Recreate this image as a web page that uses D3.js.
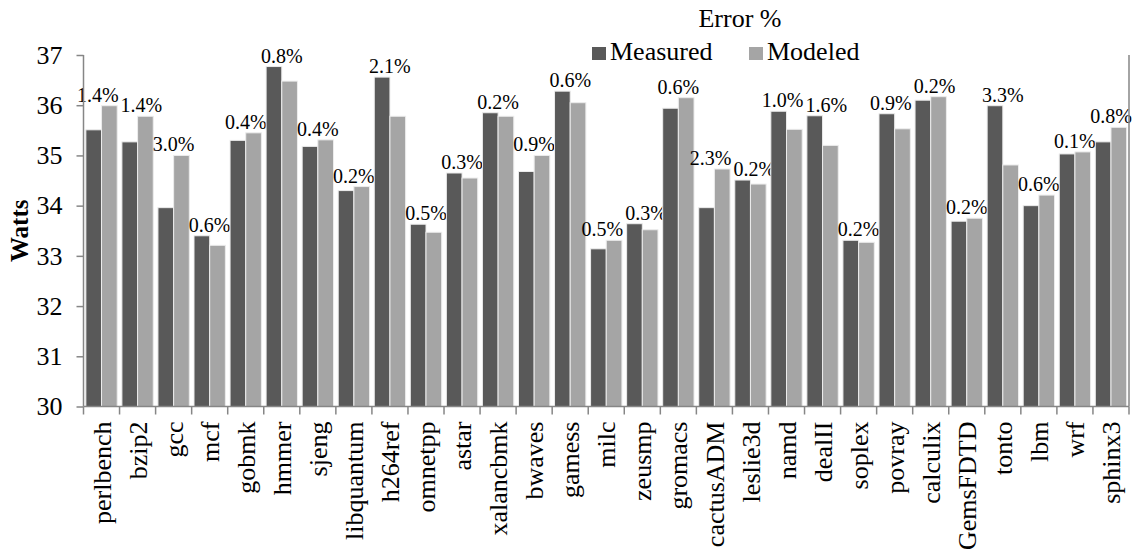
<!DOCTYPE html>
<html>
<head>
<meta charset="utf-8">
<script src="https://cdn.jsdelivr.net/npm/d3@7"></script>
<style>
  body { margin: 0; background: #fff; }
  svg { display: block; font-family: "Liberation Serif", "Times New Roman", serif; }
</style>
</head>
<body>
<svg id="chart"></svg>
<script>
// benchmark names, left to right
const benchmarks = ["perlbench", "bzip2", "gcc", "mcf", "gobmk", "hmmer", "sjeng", "libquantum",
  "h264ref", "omnetpp", "astar", "xalancbmk", "bwaves", "gamess", "milc", "zeusmp", "gromacs",
  "cactusADM", "leslie3d", "namd", "dealII", "soplex", "povray", "calculix", "GemsFDTD",
  "tonto", "lbm", "wrf", "sphinx3"];

// power in watts
const measured = [35.51, 35.27, 33.96, 33.40, 35.30, 36.77, 35.18, 34.30, 36.56, 33.63,
  34.65, 35.85, 34.68, 36.28, 33.14, 33.64, 35.94, 33.96, 34.51, 35.88,
  35.79, 33.31, 35.83, 36.10, 33.69, 35.99, 34.00, 35.03, 35.27];
const modeled = [35.99, 35.78, 35.00, 33.21, 35.45, 36.48, 35.31, 34.38, 35.78, 33.47,
  34.55, 35.78, 35.00, 36.05, 33.31, 33.52, 36.15, 34.73, 34.43, 35.52,
  35.20, 33.27, 35.53, 36.17, 33.75, 34.81, 34.21, 35.07, 35.56];

// error labels shown above each pair
const errorPct = ["1.4%", "1.4%", "3.0%", "0.6%", "0.4%", "0.8%", "0.4%", "0.2%", "2.1%", "0.5%",
  "0.3%", "0.2%", "0.9%", "0.6%", "0.5%", "0.3%", "0.6%", "2.3%", "0.2%", "1.0%",
  "1.6%", "0.2%", "0.9%", "0.2%", "0.2%", "3.3%", "0.6%", "0.1%", "0.8%"];

const seriesNames = ["Measured", "Modeled"];
const yTicks = [30, 31, 32, 33, 34, 35, 36, 37];

const W = 1144, H = 553;
const margin = {top: 55, right: 15, bottom: 146.5, left: 83.5};
const colors = d3.scaleOrdinal().domain(seriesNames).range(["#595959", "#a5a5a5"]);
const axisColor = "#868686";
const serif = "Liberation Serif, Times New Roman, serif";

const svg = d3.select("#chart").attr("width", W).attr("height", H);

const x = d3.scaleBand()
  .domain(benchmarks)
  .range([margin.left, W - margin.right])
  .padding(0);

const x1 = d3.scaleBand()
  .domain(seriesNames)
  .range([0, x.bandwidth()])
  .paddingInner(0)
  .paddingOuter(0.15);

const y = d3.scaleLinear()
  .domain([30, 37])
  .range([H - margin.bottom, margin.top]);

const rows = benchmarks.map((b, i) => ({
  name: b,
  values: [{key: "Measured", v: measured[i]}, {key: "Modeled", v: modeled[i]}],
  err: errorPct[i]
}));

// bars
const groups = svg.append("g").selectAll("g")
  .data(rows)
  .join("g")
  .attr("transform", d => `translate(${x(d.name)},0)`);

groups.selectAll("rect")
  .data(d => d.values)
  .join("rect")
  .attr("x", d => x1(d.key))
  .attr("y", d => y(d.v))
  .attr("width", x1.bandwidth())
  .attr("height", d => y(30) - y(d.v))
  .attr("fill", d => colors(d.key))
  .attr("stroke", "#ececec")
  .attr("stroke-width", 1);

// error % labels
const labels = groups.append("text")
  .attr("x", x.bandwidth() / 2)
  .attr("y", d => y(d3.max(d.values, v => v.v)) - 4)
  .attr("text-anchor", "middle")
  .attr("font-size", 20)
  .attr("font-family", serif)
  .attr("fill", "#000")
  .text(d => d.err);

// nudge neighbouring labels apart when they collide
const nodes = labels.nodes();
for (let i = 0; i < nodes.length - 1; i++) {
  const a = nodes[i].getBBox(), b = nodes[i + 1].getBBox();
  const ax = a.x + x(benchmarks[i]), bx = b.x + x(benchmarks[i + 1]);
  const overlapX = ax + a.width - bx;
  const overlapY = Math.min(a.y + a.height, b.y + b.height) - Math.max(a.y, b.y);
  if (overlapX > 0 && overlapY > 0) {
    const shift = overlapX / 2 + 1;
    d3.select(nodes[i]).attr("x", +d3.select(nodes[i]).attr("x") - shift);
    d3.select(nodes[i + 1]).attr("x", +d3.select(nodes[i + 1]).attr("x") + shift);
  }
}

// y axis
const yAxis = svg.append("g")
  .attr("transform", `translate(${margin.left},0)`)
  .call(d3.axisLeft(y).tickValues(yTicks).tickSize(7).tickPadding(14).tickFormat(d3.format("d")));
yAxis.attr("font-family", serif);
yAxis.selectAll("path, line").attr("stroke", axisColor).attr("stroke-width", 1.5);
yAxis.select(".domain").attr("d", `M0,${y(30)}V${y(37)}`);
yAxis.selectAll("text")
  .attr("font-size", 26)
  .attr("fill", "#000");

// right border line
svg.append("line")
  .attr("x1", W - margin.right).attr("x2", W - margin.right)
  .attr("y1", y(37)).attr("y2", y(30))
  .attr("stroke", axisColor).attr("stroke-width", 1.5);

// x axis with ticks between categories
const xAxis = svg.append("g").attr("transform", `translate(0,${y(30)})`);
xAxis.append("line")
  .attr("x1", margin.left).attr("x2", W - margin.right)
  .attr("stroke", axisColor).attr("stroke-width", 1.5);
const boundaries = benchmarks.map(b => x(b)).concat([x(benchmarks[benchmarks.length - 1]) + x.bandwidth()]);
xAxis.selectAll(".tick")
  .data(boundaries)
  .join("line")
  .attr("x1", d => d).attr("x2", d => d)
  .attr("y1", 0).attr("y2", 8)
  .attr("stroke", axisColor).attr("stroke-width", 1.5);

xAxis.selectAll(".cat")
  .data(benchmarks)
  .join("text")
  .attr("transform", d => `translate(${x(d) + x.bandwidth() / 2},15) rotate(-90)`)
  .attr("text-anchor", "end")
  .attr("dy", "0.35em")
  .attr("font-size", 26)
  .attr("font-family", serif)
  .attr("fill", "#000")
  .text(d => d);

// y title
svg.append("text")
  .attr("transform", `translate(28,${(y(30) + y(37)) / 2}) rotate(-90)`)
  .attr("text-anchor", "middle")
  .attr("font-size", 25)
  .attr("font-weight", "bold")
  .attr("font-family", serif)
  .attr("fill", "#000")
  .text("Watts");

// legend
svg.append("text")
  .attr("x", 740).attr("y", 27)
  .attr("text-anchor", "middle")
  .attr("font-size", 26)
  .attr("font-family", serif)
  .attr("fill", "#000")
  .text("Error %");

const legendX = d3.scaleOrdinal().domain(seriesNames).range([592, 749]);
const legend = svg.append("g").selectAll("g")
  .data(seriesNames)
  .join("g")
  .attr("transform", d => `translate(${legendX(d)},0)`);
legend.append("rect")
  .attr("x", 0).attr("y", 47)
  .attr("width", 14).attr("height", 13)
  .attr("fill", d => colors(d));
legend.append("text")
  .attr("x", 18).attr("y", 60)
  .attr("font-size", 26)
  .attr("font-family", serif)
  .attr("fill", "#000")
  .text(d => d);
</script>
</body>
</html>
